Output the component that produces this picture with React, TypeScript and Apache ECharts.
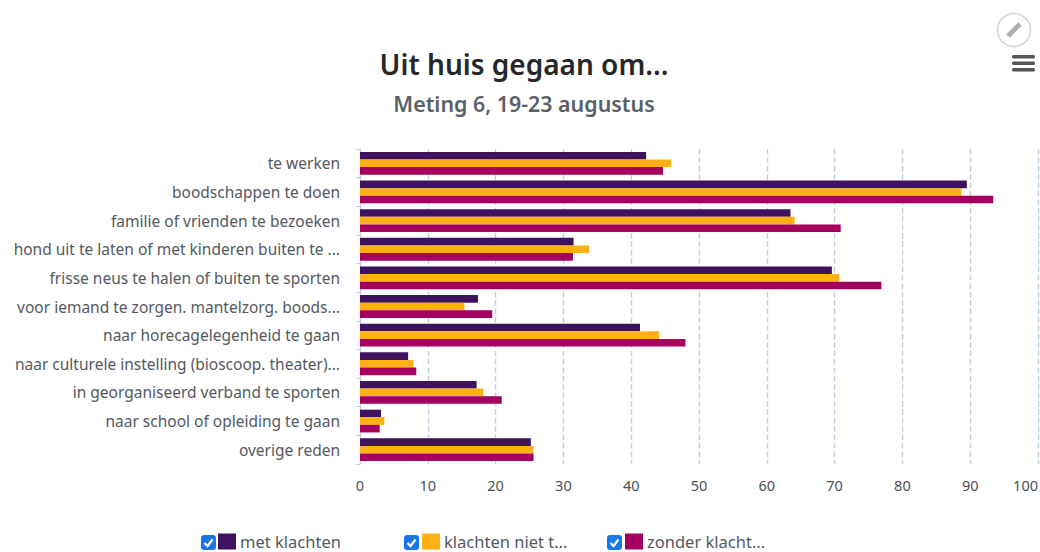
import React, { useEffect, useRef } from "react";
import * as echarts from "echarts";

const categories = [
  "te werken",
  "boodschappen te doen",
  "familie of vrienden te bezoeken",
  "hond uit te laten of met kinderen buiten te ...",
  "frisse neus te halen of buiten te sporten",
  "voor iemand te zorgen. mantelzorg. boods...",
  "naar horecagelegenheid te gaan",
  "naar culturele instelling (bioscoop. theater)...",
  "in georganiseerd verband te sporten",
  "naar school of opleiding te gaan",
  "overige reden",
];
const metKlachten = [42.2, 89.5, 63.5, 31.5, 69.6, 17.4, 41.3, 7.1, 17.2, 3.1, 25.2];
const klachtenNiet = [45.9, 88.7, 64.1, 33.8, 70.7, 15.4, 44.1, 7.9, 18.2, 3.6, 25.6];
const zonderKlachten = [44.7, 93.4, 70.9, 31.4, 76.9, 19.5, 48.0, 8.3, 20.9, 2.9, 25.6];
const seriesNames = ["met klachten", "klachten niet t...", "zonder klacht..."];
const colors = ["#3f1260", "#ffb012", "#a5005f"];
const legendLefts = [218, 422, 625];
const checkboxLefts = [201, 404, 607];
const xTicks = { min: 0, max: 100, interval: 10 };
const FONT = "'Noto Sans', sans-serif";

export default function App() {
  const ref = useRef<HTMLDivElement>(null);
  useEffect(() => {
    const chart = echarts.init(ref.current!, null, { renderer: "svg" });
    const values = [metKlachten, klachtenNiet, zonderKlachten];
    chart.setOption({
      animation: false,
      backgroundColor: "#ffffff",
      title: {
        text: "Uit huis gegaan om...",
        subtext: "Meting 6, 19-23 augustus",
        left: 519,
        top: 45,
        textAlign: "center",
        itemGap: 15,
        textStyle: { fontFamily: FONT, fontSize: 28, fontWeight: 600, color: "#25272b" },
        subtextStyle: { fontFamily: FONT, fontSize: 21.4, fontWeight: 600, color: "#5b6068" },
      },
      grid: { left: 360, right: 2, top: 149, bottom: 552 - 464, outerBoundsMode: "none" },
      xAxis: {
        type: "value",
        min: xTicks.min,
        max: xTicks.max,
        interval: xTicks.interval,
        axisLine: { show: false },
        axisTick: { show: false },
        axisLabel: { fontFamily: FONT, fontSize: 14.5, color: "#4a4f57", margin: 13, alignMaxLabel: "right" },
        splitLine: { show: true, lineStyle: { type: "dashed", color: "#bcd0e6", width: 1.4 } },
      },
      yAxis: {
        type: "category",
        inverse: true,
        data: categories,
        axisLine: { show: true, lineStyle: { color: "#c6d2e4", width: 1.2 } },
        axisTick: { show: true, length: 4, lineStyle: { color: "#c6d2e4" } },
        axisLabel: { fontFamily: FONT, fontSize: 15.5, color: "#55595f", margin: 20 },
      },
      legend: seriesNames.map((name, i) => ({
        data: [name],
        left: legendLefts[i],
        top: 533,
        itemWidth: 18,
        itemHeight: 16,
        itemGap: 0,
        padding: 0,
        selectedMode: false,
        icon: "rect",
        textStyle: { fontFamily: FONT, fontSize: 16.5, lineHeight: 15, color: "#55595f", padding: [0, 0, 0, -1] },
      })),
      series: seriesNames.map((name, i) => ({
        name,
        type: "bar",
        data: values[i],
        barWidth: 7.6,
        barGap: "0%",
        itemStyle: { color: colors[i] },
      })),
      graphic: [
        ...checkboxLefts.map((x) => ({
          type: "group",
          x,
          y: 535,
          children: [
            { type: "rect", shape: { x: 0, y: 0, width: 15, height: 15, r: 3 }, style: { fill: "#1a78e6" } },
            {
              type: "polyline",
              shape: { points: [[3.5, 8], [6.5, 11], [11.5, 4.5]] },
              style: { stroke: "#ffffff", lineWidth: 2.2, fill: "none" },
            },
          ],
        })),
        { type: "circle", shape: { cx: 1014, cy: 30, r: 16.5 }, style: { fill: "#ffffff", stroke: "#d6d6d6", lineWidth: 1.6 } },
        {
          type: "line",
          shape: { x1: 1008, y1: 36, x2: 1020, y2: 24 },
          style: { stroke: "#b0b0b0", lineWidth: 5 },
        },
        { type: "rect", shape: { x: 1012, y: 55, width: 23, height: 3.6, r: 1.5 }, style: { fill: "#555555" } },
        { type: "rect", shape: { x: 1012, y: 61.5, width: 23, height: 3.4, r: 1.5 }, style: { fill: "#555555" } },
        { type: "rect", shape: { x: 1012, y: 68, width: 23, height: 3.6, r: 1.5 }, style: { fill: "#555555" } },
      ],
    });
    return () => chart.dispose();
  }, []);
  return <div ref={ref} style={{ position: "absolute", left: 0, top: 0, width: 1040, height: 552 }} />;
}
